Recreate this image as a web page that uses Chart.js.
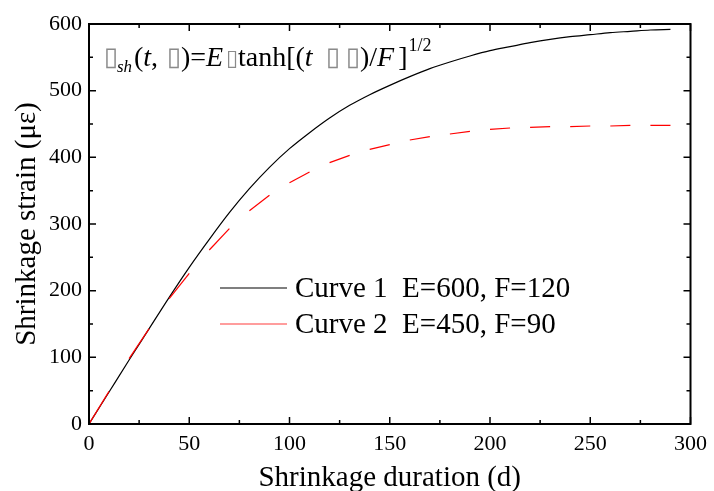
<!DOCTYPE html>
<html>
<head>
<meta charset="utf-8">
<script src="https://cdn.jsdelivr.net/npm/chart.js@4.4.1/dist/chart.umd.min.js"></script>
<style>
  html, body { margin: 0; padding: 0; background: #ffffff; }
  #wrap { width: 714px; height: 491px; }
</style>
</head>
<body>
<div id="wrap"><canvas id="c" width="714" height="491"></canvas></div>
<script>
// ---- data ----
const days = [0,10,20,30,40,50,60,70,80,90,100,110,120,130,140,150,160,170,180,190,200,210,220,230,240,250,260,270,280,290];
const curve1 = [0,48,96,143,190,235,277,317,353,385,413,437,459,478,494,508,521,533,543,552,560,566,572,577,581,584,587,589,591,592];
const curve2 = [0,49,98,143,188,226,261,293,320,343,362,378,392,403,412,419,426,431,435,439,442,444,445,446,446,447,447,448,448,448];
const seriesNames = ['Curve 1  E=600, F=120', 'Curve 2  E=450, F=90'];
const xTickValues = [0,50,100,150,200,250,300];
const yTickValues = [0,100,200,300,400,500,600];
const xTitle = 'Shrinkage duration (d)';
const yTitle = 'Shrinkage strain (\u03BC\u03B5)';

const SERIF = "'Liberation Serif', 'Times New Roman', serif";
const BOXF = "'DejaVu Sans', sans-serif";

const pts = (ys) => days.map((d, i) => ({ x: d, y: ys[i] }));

const decor = {
  id: 'decor',
  afterDatasetsDraw(chart) {
    const ctx = chart.ctx;
    const xs = chart.scales.x, ys = chart.scales.y;
    const L = xs.left, R = xs.right, T = ys.top, B = ys.bottom;
    ctx.save();
    // frame
    ctx.strokeStyle = '#000';
    ctx.lineWidth = 2;
    ctx.strokeRect(L, T, R - L, B - T);
    // ticks (inward, all sides)
    ctx.lineWidth = 1.5;
    ctx.beginPath();
    for (let v = 0; v <= 300; v += 25) {
      const px = xs.getPixelForValue(v);
      const len = (v % 50 === 0) ? 7 : 4;
      ctx.moveTo(px, B); ctx.lineTo(px, B - len);
      ctx.moveTo(px, T); ctx.lineTo(px, T + len);
    }
    for (let v = 0; v <= 600; v += 50) {
      const py = ys.getPixelForValue(v);
      const len = (v % 100 === 0) ? 7 : 4;
      ctx.moveTo(L, py); ctx.lineTo(L + len, py);
      ctx.moveTo(R, py); ctx.lineTo(R - len, py);
    }
    ctx.stroke();

    // axis titles
    ctx.fillStyle = '#000';
    ctx.font = '29px ' + SERIF;
    ctx.textAlign = 'center';
    ctx.textBaseline = 'alphabetic';
    ctx.fillText(xTitle, (L + R) / 2, 486);
    ctx.save();
    ctx.translate(35, (T + B) / 2);
    ctx.rotate(-Math.PI / 2);
    ctx.fillText(yTitle, 0, 0);
    ctx.restore();

    // legend
    const legendColors = ['#000000', '#ff3c3c'];
    const legendY = [288, 324];
    ctx.textAlign = 'left';
    ctx.textBaseline = 'middle';
    ctx.font = '29px ' + SERIF;
    for (let i = 0; i < 2; i++) {
      ctx.strokeStyle = legendColors[i];
      ctx.lineWidth = 1.2;
      ctx.beginPath();
      ctx.moveTo(220, legendY[i]); ctx.lineTo(287, legendY[i]);
      ctx.stroke();
      ctx.fillStyle = '#000';
      ctx.fillText(seriesNames[i], 295, legendY[i] + 1);
    }

    // formula annotation (missing-glyph boxes kept as box characters)
    const base = 66;
    const B_ = '\u25AF';
    const runs = [
      { box: true, cx: 111 },
      { t: 'sh', f: 'italic 17px', dy: 6, x: 117 },
      { t: '(', f: '28px', x: 134 },
      { t: 't', f: 'italic 28px' },
      { t: ',', f: '28px' },
      { box: true, cx: 174 },
      { t: ')=', f: '28px', x: 181 },
      { t: 'E', f: 'italic 28px' },
      { box: true, cx: 232, size: 22 },
      { t: 'tanh[(', f: '28px', x: 238 },
      { t: 't', f: 'italic 28px' },
      { box: true, cx: 333 },
      { box: true, cx: 353 },
      { t: ')/', f: '28px', x: 360 },
      { t: 'F', f: 'italic 28px' },
      { t: ']', f: '28px', gap: 4 },
      { t: '1/2', f: '18px', dy: -15, gap: 1 }
    ];
    let x = 104;
    ctx.textBaseline = 'alphabetic';
    for (const r of runs) {
      if (r.box) {
        ctx.font = (r.size || 26) + 'px ' + BOXF;
        ctx.fillStyle = '#8a8a8a';
        ctx.textAlign = 'center';
        ctx.fillText(B_, r.cx, base - 1);
        ctx.textAlign = 'left';
        continue;
      }
      if (r.x !== undefined) x = r.x;
      x += (r.gap || 0);
      ctx.font = r.f + ' ' + SERIF;
      ctx.fillStyle = '#000';
      ctx.fillText(r.t, x, base + (r.dy || 0));
      x += ctx.measureText(r.t).width;
    }
    ctx.restore();
  }
};

new Chart(document.getElementById('c'), {
  type: 'line',
  data: {
    datasets: [
      {
        label: seriesNames[0],
        data: pts(curve1),
        borderColor: '#000000',
        borderWidth: 1.2,
        pointRadius: 0,
        cubicInterpolationMode: 'monotone',
        fill: false,
        order: 1
      },
      {
        label: seriesNames[1],
        data: pts(curve2),
        borderColor: '#ff0000',
        borderWidth: 1.2,
        pointRadius: 0,
        tension: 0,
        fill: false,
        order: 0,
        segment: {
          borderColor: (c) => (c.p0DataIndex % 2 === 0 ? '#ff0000' : 'rgba(0,0,0,0)')
        }
      }
    ]
  },
  options: {
    responsive: false,
    animation: false,
    events: [],
    layout: { padding: { left: 0, top: 24, right: 18, bottom: 0 } },
    plugins: { legend: { display: false }, tooltip: { enabled: false }, title: { display: false } },
    scales: {
      x: {
        type: 'linear',
        min: 0, max: 300,
        afterBuildTicks: (s) => { s.ticks = xTickValues.map(v => ({ value: v })); },
        grid: { display: false, drawTicks: false },
        border: { display: false },
        ticks: { color: '#000', font: { family: SERIF, size: 22 }, padding: 7, maxRotation: 0, autoSkip: false },
        afterFit: (s) => { s.height = 67; }
      },
      y: {
        type: 'linear',
        min: 0, max: 600,
        afterBuildTicks: (s) => { s.ticks = yTickValues.map(v => ({ value: v })); },
        grid: { display: false, drawTicks: false },
        border: { display: false },
        ticks: { color: '#000', font: { family: SERIF, size: 22 }, padding: 7, autoSkip: false },
        afterFit: (s) => { s.width = 89; }
      }
    }
  },
  plugins: [decor]
});
</script>
</body>
</html>
